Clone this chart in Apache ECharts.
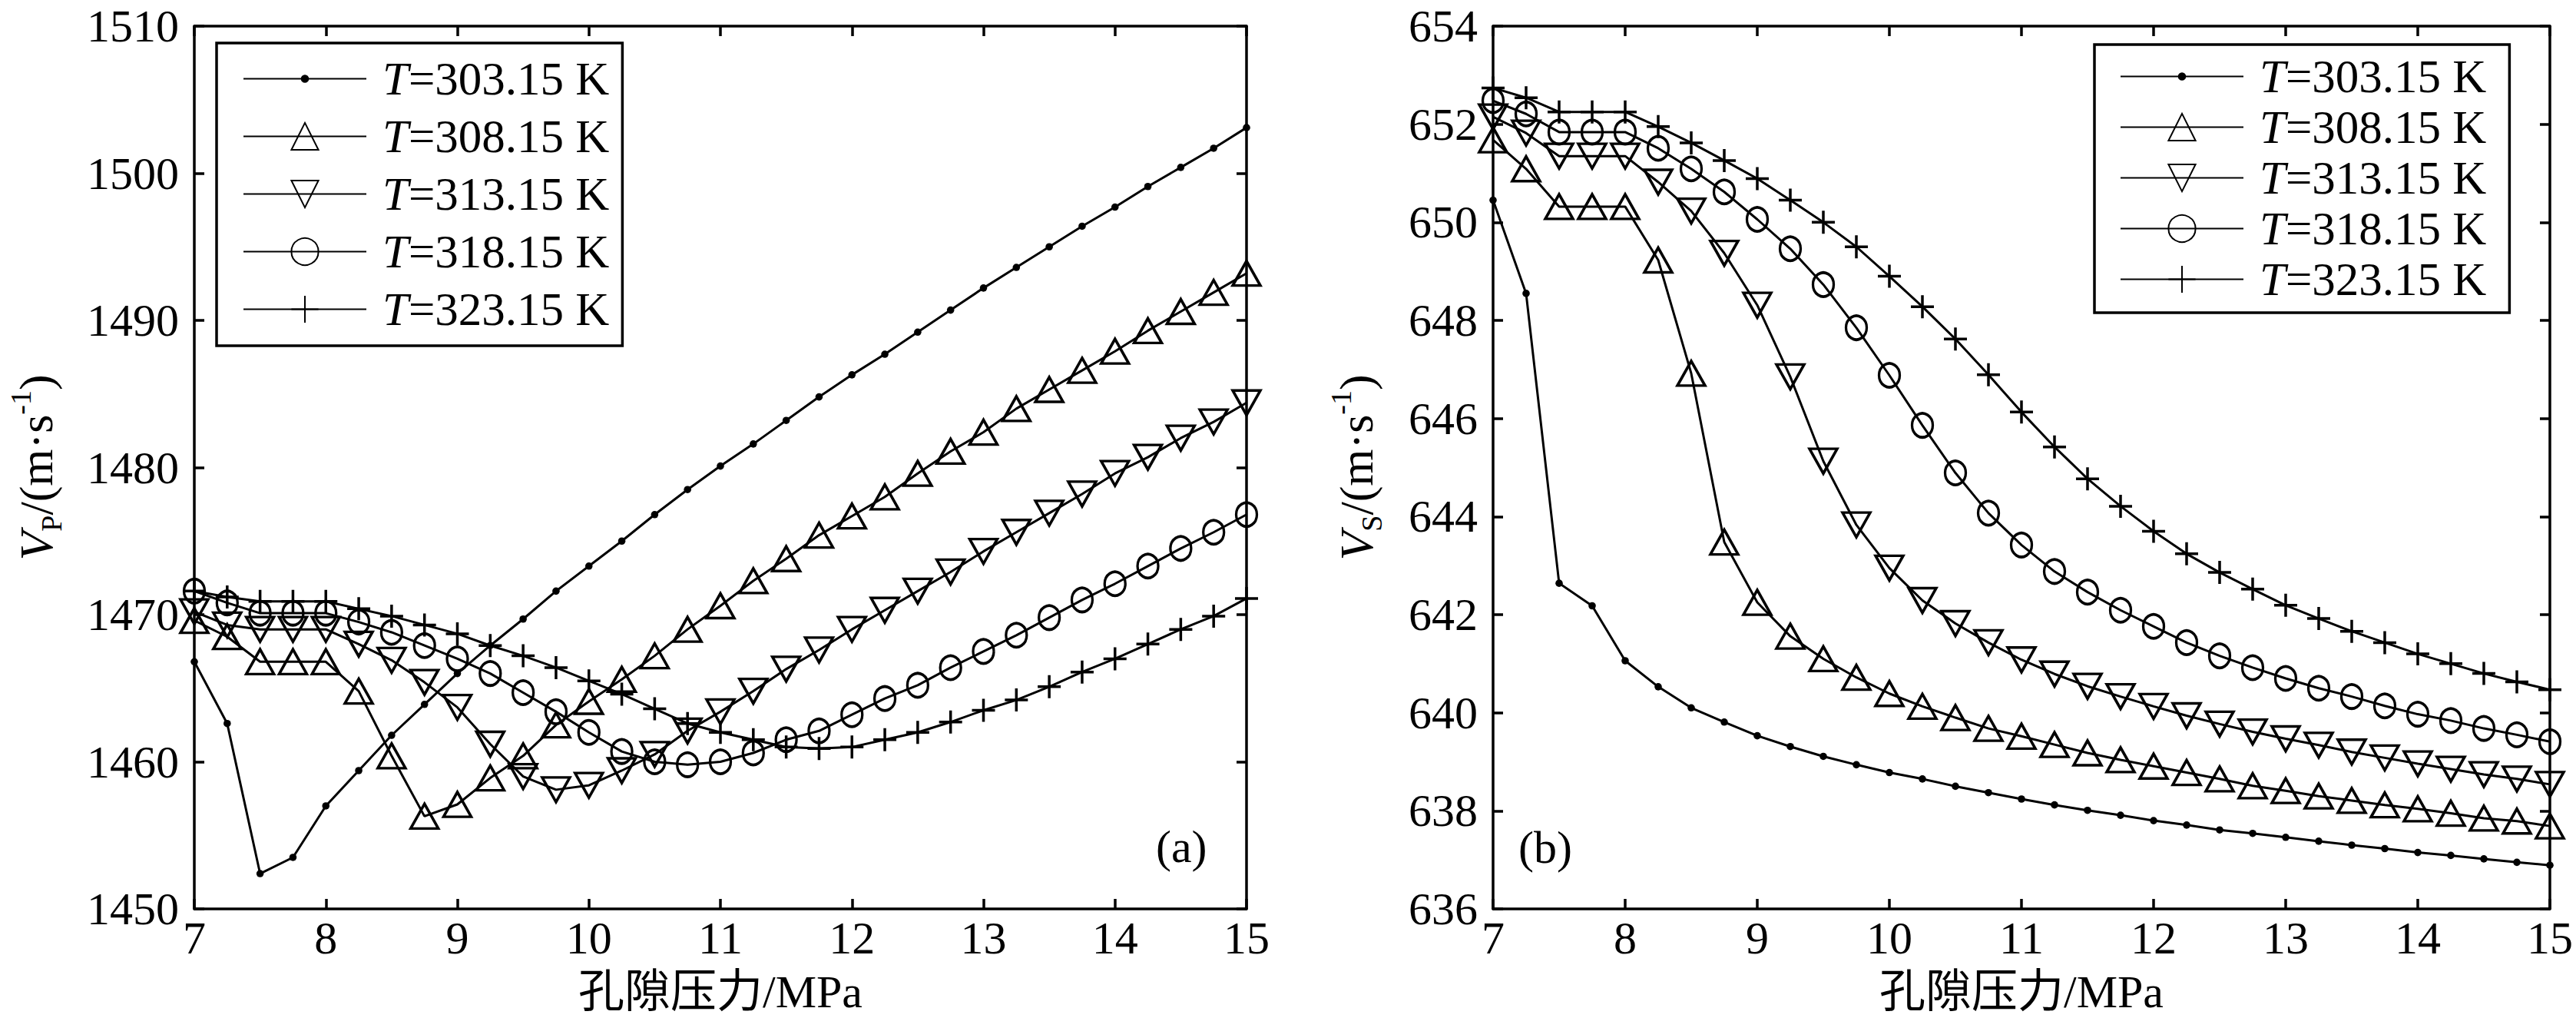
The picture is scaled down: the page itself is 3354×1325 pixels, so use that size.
<!DOCTYPE html>
<html>
<head>
<meta charset="utf-8">
<title>孔隙压力与纵横波速度</title>
<script src="https://cdn.jsdelivr.net/npm/echarts@6.0.0/dist/echarts.min.js"></script>
<style>
    html, body { margin: 0; padding: 0; background: #fff; }
    #chart { width: 3354px; height: 1325px; }
</style>
</head>
<body>
<div id="chart"></div>
<script>
    // 孔隙压力 / MPa
    var pressure = [7, 7.25, 7.5, 7.75, 8, 8.25, 8.5, 8.75, 9, 9.25, 9.5, 9.75, 10, 10.25, 10.5, 10.75, 11,
        11.25, 11.5, 11.75, 12, 12.25, 12.5, 12.75, 13, 13.25, 13.5, 13.75, 14, 14.25, 14.5, 14.75, 15];
    var names = ['T=303.15 K', 'T=308.15 K', 'T=313.15 K', 'T=318.15 K', 'T=323.15 K'];

    // (a) 纵波速度 VP
    var vp303 = [1466.8, 1462.6, 1452.4, 1453.5, 1457.0, 1459.4, 1461.8, 1463.9, 1466.0, 1467.9, 1469.7, 1471.6, 1473.3, 1475.0, 1476.8, 1478.5, 1480.1,
        1481.6, 1483.2, 1484.8, 1486.3, 1487.7, 1489.2, 1490.7, 1492.2, 1493.6, 1495.0, 1496.4, 1497.7, 1499.1, 1500.4, 1501.7, 1503.1];
    var vp308 = [1469.6, 1468.5, 1466.8, 1466.8, 1466.8, 1464.8, 1460.4, 1456.3, 1457.1, 1458.9, 1460.4, 1462.5, 1464.1, 1465.6, 1467.2, 1469.0, 1470.6,
        1472.3, 1473.8, 1475.4, 1476.7, 1478.0, 1479.6, 1481.1, 1482.4, 1484.0, 1485.3, 1486.6, 1487.9, 1489.3, 1490.6, 1491.9, 1493.2];
    var vp313 = [1470.2, 1469.3, 1469.0, 1469.0, 1469.0, 1468.0, 1466.9, 1465.4, 1463.7, 1461.2, 1459.0, 1458.1, 1458.4, 1459.4, 1460.5, 1462.1, 1463.4,
        1464.8, 1466.3, 1467.6, 1469.0, 1470.3, 1471.6, 1472.9, 1474.3, 1475.6, 1476.9, 1478.2, 1479.6, 1480.7, 1482.0, 1483.1, 1484.4];
    var vp318 = [1471.6, 1470.8, 1470.1, 1470.1, 1470.1, 1469.5, 1468.8, 1467.9, 1467.0, 1466.0, 1464.7, 1463.4, 1462.0, 1460.7, 1460.0, 1459.8, 1460.0,
        1460.6, 1461.5, 1462.1, 1463.2, 1464.3, 1465.2, 1466.4, 1467.5, 1468.6, 1469.8, 1471.0, 1472.1, 1473.3, 1474.5, 1475.6, 1476.8];
    var vp323 = [1471.6, 1471.2, 1470.9, 1470.9, 1470.9, 1470.4, 1469.9, 1469.3, 1468.7, 1467.9, 1467.2, 1466.4, 1465.5, 1464.6, 1463.6, 1462.6, 1462.0,
        1461.5, 1461.0, 1460.9, 1461.0, 1461.5, 1462.0, 1462.7, 1463.5, 1464.2, 1465.1, 1466.1, 1467.0, 1468.0, 1469.0, 1469.9, 1471.1];

    // (b) 横波速度 VS
    var vs303 = [650.45, 648.55, 642.64, 642.18, 641.06, 640.53, 640.10, 639.81, 639.53, 639.31, 639.11, 638.94, 638.78, 638.65, 638.50, 638.37, 638.24,
        638.12, 638.01, 637.91, 637.80, 637.71, 637.61, 637.54, 637.46, 637.38, 637.30, 637.23, 637.15, 637.09, 637.02, 636.95, 636.89];
    var vs308 = [651.68, 651.09, 650.32, 650.32, 650.32, 649.23, 646.92, 643.48, 642.25, 641.56, 641.10, 640.72, 640.39, 640.13, 639.90, 639.68, 639.52,
        639.35, 639.18, 639.04, 638.91, 638.78, 638.65, 638.51, 638.41, 638.30, 638.21, 638.12, 638.04, 637.95, 637.85, 637.79, 637.69];
    var vs313 = [652.15, 651.82, 651.35, 651.35, 651.35, 650.82, 650.23, 649.37, 648.31, 646.85, 645.13, 643.83, 642.95, 642.29, 641.82, 641.43, 641.08,
        640.79, 640.54, 640.33, 640.13, 639.94, 639.77, 639.61, 639.47, 639.34, 639.20, 639.08, 638.96, 638.85, 638.74, 638.65, 638.54];
    var vs318 = [652.48, 652.21, 651.84, 651.84, 651.84, 651.51, 651.09, 650.62, 650.06, 649.46, 648.73, 647.85, 646.88, 645.86, 644.89, 644.07, 643.42,
        642.88, 642.46, 642.09, 641.76, 641.43, 641.16, 640.92, 640.70, 640.50, 640.33, 640.14, 639.97, 639.84, 639.68, 639.55, 639.41];
    var vs323 = [652.74, 652.54, 652.25, 652.25, 652.25, 651.95, 651.62, 651.26, 650.89, 650.45, 650.00, 649.50, 648.90, 648.28, 647.62, 646.89, 646.13,
        645.42, 644.77, 644.21, 643.70, 643.24, 642.86, 642.52, 642.19, 641.92, 641.66, 641.43, 641.20, 641.00, 640.80, 640.63, 640.47];

    var serif = "'Liberation Serif', 'Times New Roman', 'Noto Sans CJK SC', serif";
    var chart = echarts.init(document.getElementById('chart'), null, {renderer: 'svg'});

    // 标记样式: 实心点, 上三角, 下三角, 空心圆, 加号
    var marks = [
        {symbol: 'path://M0,0M100,100M50,35A15,15,0,1,1,50,65A15,15,0,1,1,50,35Z', size: 32, fill: '#000', border: 0},
        {symbol: 'path://M50,0L100,87L0,87Z', size: [36, 32], fill: 'rgba(0,0,0,0)', border: 3.5},
        {symbol: 'path://M0,0L100,0L50,87Z', size: [36, 32], fill: 'rgba(0,0,0,0)', border: 3.5},
        {symbol: 'circle', size: [27, 31], fill: 'rgba(0,0,0,0)', border: 3.5},
        {symbol: 'path://M50,0L50,100M0,50L100,50', size: 30, fill: 'rgba(0,0,0,0)', border: 3.5}
    ];

    function makeSeries(k, values, axisIndex) {
        var m = marks[k];
        return {
            type: 'line',
            name: names[k],
            xAxisIndex: axisIndex,
            yAxisIndex: axisIndex,
            data: pressure.map(function (p, i) { return [p, values[i]]; }),
            symbol: m.symbol,
            symbolSize: m.size,
            showAllSymbol: true,
            silent: true,
            lineStyle: {color: '#000', width: 3},
            itemStyle: {color: m.fill, borderColor: '#000', borderWidth: m.border},
            emphasis: {disabled: true}
        };
    }

    function axisBase(gridIndex, position, min, max, interval, showLabel) {
        return {
            type: 'value',
            gridIndex: gridIndex,
            position: position,
            min: min,
            max: max,
            interval: interval,
            axisLine: {show: true, onZero: false, lineStyle: {color: '#000', width: 3.5}},
            axisTick: {show: true, inside: true, length: 13, lineStyle: {color: '#000', width: 3.5}},
            axisLabel: {
                show: showLabel, color: '#000', fontFamily: serif, fontSize: 60,
                formatter: function (v) { return String(v); }
            },
            splitLine: {show: false}
        };
    }

    function xAxis(gridIndex, position, showLabel) {
        var a = axisBase(gridIndex, position, 7, 15, 1, showLabel);
        a.axisLabel.margin = 8;
        if (showLabel) {
            a.name = '孔隙压力/MPa';
            a.nameLocation = 'middle';
            a.nameGap = 78;
            a.nameTextStyle = {color: '#000', fontFamily: serif, fontSize: 60};
        }
        return a;
    }

    var nameRich = {
        v: {fontFamily: serif, fontSize: 62, fontStyle: 'italic', lineHeight: 78, color: '#000'},
        t: {fontFamily: serif, fontSize: 62, lineHeight: 78, color: '#000'},
        s: {fontFamily: serif, fontSize: 38, lineHeight: 42, verticalAlign: 'bottom', color: '#000'},
        p: {fontFamily: serif, fontSize: 38, lineHeight: 42, verticalAlign: 'top', color: '#000'}
    };

    function yAxis(gridIndex, position, min, max, interval, showLabel, sub, gap) {
        var a = axisBase(gridIndex, position, min, max, interval, showLabel);
        a.axisLabel.margin = 20;
        if (showLabel) {
            a.name = '{v|V}{s|' + sub + '}{t|/(m·s}{p|-1}{t|)}';
            a.nameLocation = 'middle';
            a.nameRotate = 90;
            a.nameGap = gap;
            a.nameTextStyle = {color: '#000', fontFamily: serif, fontSize: 62, rich: nameRich};
        }
        return a;
    }

    function legend(left, top, gap, padding) {
        return {
            orient: 'vertical',
            left: left,
            top: top,
            itemWidth: 160,
            itemHeight: 44,
            itemGap: gap,
            padding: padding,
            borderColor: '#000',
            borderWidth: 3.5,
            selectedMode: false,
            data: names,
            formatter: function (name) { return '{i|T}{n|' + name.slice(1) + '}'; },
            textStyle: {
                color: '#000', fontFamily: serif, fontSize: 61, padding: [0, 0, 0, 16],
                rich: {
                    i: {color: '#000', fontFamily: serif, fontSize: 61, fontStyle: 'italic'},
                    n: {color: '#000', fontFamily: serif, fontSize: 61}
                }
            }
        };
    }

    var vpData = [vp303, vp308, vp313, vp318, vp323];
    var vsData = [vs303, vs308, vs313, vs318, vs323];
    var series = [];
    vpData.forEach(function (v, k) { series.push(makeSeries(k, v, 0)); });
    vsData.forEach(function (v, k) { series.push(makeSeries(k, v, 2)); });

    var option = {
        animation: false,
        backgroundColor: '#fff',
        grid: [
            {left: 253, right: 1731, top: 34, bottom: 142, outerBoundsMode: 'none'},
            {left: 1944, right: 34, top: 34, bottom: 142, outerBoundsMode: 'none'}
        ],
        xAxis: [
            xAxis(0, 'bottom', true),
            xAxis(0, 'top', false),
            xAxis(1, 'bottom', true),
            xAxis(1, 'top', false)
        ],
        yAxis: [
            yAxis(0, 'left', 1450, 1510, 10, true, 'P', 167),
            yAxis(0, 'right', 1450, 1510, 10, false),
            yAxis(1, 'left', 636, 654, 2, true, 'S', 139),
            yAxis(1, 'right', 636, 654, 2, false)
        ],
        legend: [
            legend(282, 56, 14, [16, 17, 17, 34]),
            legend(2727, 58, 5, [11, 30, 13, 33])
        ],
        graphic: [
            {type: 'text', left: 1545 - 40, top: 1106 - 34,
                style: {text: '(a)', font: '60px ' + serif, fill: '#000'}},
            {type: 'text', left: 2017 - 40, top: 1107 - 34,
                style: {text: '(b)', font: '60px ' + serif, fill: '#000'}}
        ],
        series: series
    };
    chart.setOption(option);
</script>
</body>
</html>
